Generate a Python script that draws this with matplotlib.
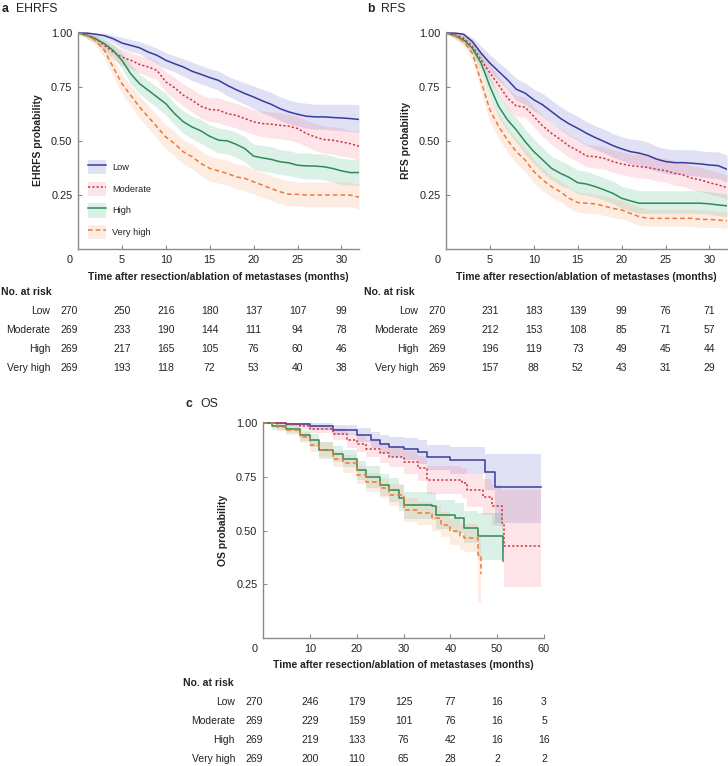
import numpy as np
import matplotlib
matplotlib.use("Agg")
import matplotlib.pyplot as plt
from matplotlib.patches import Patch
from matplotlib.lines import Line2D
from matplotlib.transforms import blended_transform_factory, ScaledTranslation

plt.rcParams['font.family'] = ['Liberation Sans', 'DejaVu Sans']

groups = ["Low", "Moderate", "High", "Very high"]
line_colors = ["#3a3a9e", "#d2323e", "#2e8b57", "#f07838"]
fill_colors = ["#6a6ad0", "#f07a8c", "#4cbb8a", "#f8a070"]
line_styles = ["-", (0, (1.4, 1.4)), "-", (0, (3, 2))]

months_ab = list(range(33))
ehrfs_surv = [
    [1.00, 1.00, 0.995, 0.988, 0.974, 0.954, 0.943, 0.932, 0.912, 0.897, 0.874, 0.858, 0.843, 0.823, 0.809, 0.794, 0.781,
     0.758, 0.738, 0.720, 0.704, 0.686, 0.670, 0.650, 0.635, 0.624, 0.615, 0.612, 0.612, 0.609, 0.607, 0.604, 0.600],
    [1.00, 0.992, 0.974, 0.943, 0.912, 0.889, 0.874, 0.855, 0.843, 0.827, 0.774, 0.747, 0.712, 0.689, 0.661, 0.646, 0.643,
     0.627, 0.619, 0.604, 0.589, 0.581, 0.578, 0.573, 0.569, 0.558, 0.535, 0.519, 0.507, 0.504, 0.496, 0.488, 0.476],
    [1.00, 0.989, 0.974, 0.951, 0.920, 0.874, 0.812, 0.766, 0.735, 0.704, 0.673, 0.627, 0.589, 0.565, 0.547, 0.522, 0.504,
     0.501, 0.485, 0.465, 0.430, 0.422, 0.415, 0.404, 0.399, 0.388, 0.385, 0.384, 0.381, 0.373, 0.362, 0.354, 0.354],
    [1.00, 0.989, 0.966, 0.920, 0.843, 0.766, 0.712, 0.658, 0.612, 0.565, 0.519, 0.488, 0.450, 0.427, 0.396, 0.373, 0.362,
     0.350, 0.334, 0.327, 0.311, 0.296, 0.280, 0.265, 0.254, 0.253, 0.250, 0.250, 0.250, 0.250, 0.250, 0.250, 0.240],
]
ehrfs_hi = [
    [1.00, 1.00, 1.00, 1.00, 0.99, 0.98, 0.97, 0.96, 0.945, 0.93, 0.91, 0.895, 0.88, 0.865, 0.85, 0.835, 0.825,
     0.80, 0.785, 0.77, 0.755, 0.74, 0.725, 0.705, 0.69, 0.68, 0.675, 0.67, 0.67, 0.67, 0.67, 0.67, 0.668],
    [1.00, 1.00, 0.99, 0.97, 0.945, 0.925, 0.91, 0.895, 0.885, 0.87, 0.82, 0.795, 0.765, 0.74, 0.715, 0.70, 0.70,
     0.685, 0.675, 0.66, 0.645, 0.64, 0.635, 0.63, 0.625, 0.615, 0.595, 0.58, 0.57, 0.565, 0.56, 0.55, 0.545],
    [1.00, 1.00, 0.99, 0.975, 0.95, 0.91, 0.855, 0.81, 0.78, 0.75, 0.72, 0.675, 0.64, 0.615, 0.60, 0.575, 0.56,
     0.555, 0.54, 0.52, 0.485, 0.48, 0.475, 0.46, 0.455, 0.445, 0.445, 0.44, 0.44, 0.43, 0.42, 0.415, 0.415],
    [1.00, 1.00, 0.985, 0.95, 0.885, 0.81, 0.76, 0.71, 0.665, 0.62, 0.575, 0.545, 0.505, 0.485, 0.455, 0.43, 0.42,
     0.41, 0.395, 0.385, 0.37, 0.355, 0.34, 0.325, 0.315, 0.31, 0.31, 0.31, 0.31, 0.31, 0.31, 0.31, 0.30],
]
ehrfs_lo = [
    [1.00, 0.99, 0.985, 0.975, 0.955, 0.93, 0.915, 0.905, 0.88, 0.86, 0.835, 0.82, 0.80, 0.78, 0.765, 0.75, 0.735,
     0.71, 0.69, 0.67, 0.65, 0.63, 0.615, 0.595, 0.58, 0.57, 0.56, 0.555, 0.555, 0.55, 0.548, 0.545, 0.54],
    [1.00, 0.98, 0.955, 0.915, 0.88, 0.85, 0.835, 0.815, 0.80, 0.785, 0.725, 0.695, 0.66, 0.635, 0.605, 0.59, 0.585,
     0.57, 0.56, 0.545, 0.53, 0.52, 0.515, 0.51, 0.505, 0.495, 0.475, 0.455, 0.445, 0.44, 0.43, 0.425, 0.41],
    [1.00, 0.975, 0.955, 0.925, 0.89, 0.835, 0.765, 0.72, 0.685, 0.655, 0.62, 0.575, 0.535, 0.51, 0.49, 0.465, 0.445,
     0.44, 0.425, 0.405, 0.37, 0.36, 0.355, 0.345, 0.34, 0.33, 0.325, 0.325, 0.32, 0.31, 0.30, 0.295, 0.295],
    [1.00, 0.975, 0.945, 0.885, 0.80, 0.72, 0.665, 0.605, 0.56, 0.51, 0.465, 0.43, 0.395, 0.37, 0.34, 0.315, 0.305,
     0.295, 0.28, 0.27, 0.255, 0.24, 0.225, 0.21, 0.20, 0.20, 0.195, 0.195, 0.195, 0.195, 0.195, 0.195, 0.185],
]

# ---- panel b: RFS
rfs_surv = [
    [1.00, 1.00, 0.995, 0.961, 0.907, 0.861, 0.822, 0.784, 0.740, 0.722, 0.691, 0.668, 0.637, 0.606, 0.580, 0.559, 0.536,
     0.516, 0.498, 0.479, 0.464, 0.451, 0.444, 0.433, 0.416, 0.405, 0.400, 0.400, 0.397, 0.394, 0.389, 0.386, 0.369],
    [1.00, 0.992, 0.977, 0.938, 0.876, 0.815, 0.760, 0.699, 0.663, 0.657, 0.614, 0.570, 0.536, 0.508, 0.477, 0.456, 0.431,
     0.428, 0.420, 0.405, 0.394, 0.386, 0.382, 0.377, 0.369, 0.363, 0.351, 0.343, 0.328, 0.320, 0.307, 0.297, 0.284],
    [1.00, 0.988, 0.969, 0.930, 0.861, 0.753, 0.660, 0.598, 0.552, 0.498, 0.451, 0.413, 0.374, 0.351, 0.332, 0.307, 0.301,
     0.289, 0.274, 0.258, 0.235, 0.223, 0.212, 0.212, 0.212, 0.212, 0.212, 0.212, 0.212, 0.212, 0.209, 0.204, 0.200],
    [1.00, 0.988, 0.961, 0.907, 0.776, 0.644, 0.567, 0.505, 0.451, 0.413, 0.359, 0.320, 0.289, 0.266, 0.235, 0.215, 0.212,
     0.209, 0.199, 0.188, 0.181, 0.165, 0.150, 0.142, 0.142, 0.142, 0.142, 0.142, 0.142, 0.137, 0.137, 0.134, 0.131],
]
rfs_hi = [
    [1.00, 1.00, 1.00, 0.98, 0.94, 0.90, 0.865, 0.83, 0.79, 0.77, 0.74, 0.72, 0.69, 0.66, 0.635, 0.615, 0.59,
     0.57, 0.555, 0.535, 0.52, 0.51, 0.505, 0.495, 0.475, 0.465, 0.46, 0.46, 0.46, 0.455, 0.45, 0.45, 0.435],
    [1.00, 1.00, 0.995, 0.965, 0.91, 0.855, 0.80, 0.745, 0.71, 0.705, 0.66, 0.62, 0.585, 0.56, 0.53, 0.51, 0.485,
     0.48, 0.475, 0.46, 0.45, 0.44, 0.44, 0.435, 0.425, 0.42, 0.41, 0.40, 0.385, 0.38, 0.365, 0.355, 0.345],
    [1.00, 1.00, 0.99, 0.96, 0.90, 0.80, 0.715, 0.655, 0.61, 0.555, 0.51, 0.47, 0.43, 0.41, 0.39, 0.365, 0.36,
     0.345, 0.33, 0.315, 0.29, 0.28, 0.27, 0.27, 0.27, 0.27, 0.27, 0.27, 0.27, 0.27, 0.265, 0.26, 0.255],
    [1.00, 1.00, 0.98, 0.935, 0.825, 0.70, 0.625, 0.56, 0.51, 0.47, 0.415, 0.375, 0.34, 0.315, 0.285, 0.265, 0.26,
     0.255, 0.245, 0.235, 0.225, 0.21, 0.195, 0.185, 0.185, 0.185, 0.185, 0.185, 0.185, 0.18, 0.18, 0.175, 0.17],
]
rfs_lo = [
    [1.00, 0.99, 0.985, 0.94, 0.875, 0.82, 0.78, 0.74, 0.69, 0.67, 0.64, 0.615, 0.585, 0.555, 0.525, 0.505, 0.48,
     0.46, 0.445, 0.425, 0.41, 0.395, 0.39, 0.375, 0.36, 0.35, 0.345, 0.345, 0.34, 0.335, 0.33, 0.325, 0.31],
    [1.00, 0.98, 0.96, 0.91, 0.84, 0.775, 0.715, 0.65, 0.615, 0.61, 0.565, 0.52, 0.485, 0.455, 0.425, 0.405, 0.38,
     0.375, 0.37, 0.355, 0.345, 0.335, 0.33, 0.325, 0.315, 0.31, 0.295, 0.29, 0.275, 0.265, 0.255, 0.245, 0.23],
    [1.00, 0.975, 0.95, 0.90, 0.82, 0.705, 0.61, 0.545, 0.495, 0.44, 0.395, 0.355, 0.32, 0.295, 0.28, 0.255, 0.25,
     0.24, 0.225, 0.21, 0.19, 0.175, 0.165, 0.165, 0.165, 0.165, 0.165, 0.165, 0.165, 0.165, 0.16, 0.155, 0.15],
    [1.00, 0.975, 0.94, 0.875, 0.73, 0.59, 0.51, 0.45, 0.395, 0.36, 0.305, 0.27, 0.24, 0.22, 0.19, 0.17, 0.165,
     0.165, 0.155, 0.145, 0.14, 0.125, 0.11, 0.105, 0.105, 0.105, 0.105, 0.105, 0.105, 0.10, 0.10, 0.10, 0.095],
]

os_times = [
    [0, 5, 10, 15, 20, 23, 25, 27, 30, 33, 35, 40, 47.5, 49.5, 59.3],
    [0, 5, 8, 10, 15, 18, 20, 22, 25, 27, 30, 33, 35, 42.5, 43.5, 47, 49, 51, 51.5, 59.3],
    [0, 2, 5, 8, 10, 12, 15, 17, 20, 22, 25, 27, 29, 30, 36, 37, 41, 43, 46, 51.2],
    [0, 3, 5, 8, 10, 12, 15, 17, 20, 22, 25, 27, 30, 33, 36, 38, 40, 42, 43, 46, 46.5],
]
os_surv = [
    [1.00, 0.994, 0.985, 0.966, 0.943, 0.923, 0.904, 0.889, 0.881, 0.866, 0.840, 0.827, 0.773, 0.704, 0.704],
    [1.00, 0.994, 0.985, 0.974, 0.951, 0.920, 0.904, 0.881, 0.861, 0.843, 0.820, 0.789, 0.735, 0.720, 0.689, 0.658,
     0.615, 0.535, 0.427, 0.427],
    [1.00, 0.985, 0.974, 0.943, 0.920, 0.874, 0.858, 0.835, 0.781, 0.750, 0.712, 0.689, 0.650, 0.619, 0.612, 0.573,
     0.558, 0.512, 0.473, 0.357],
    [1.00, 0.980, 0.966, 0.935, 0.897, 0.877, 0.835, 0.812, 0.758, 0.727, 0.696, 0.666, 0.596, 0.581, 0.558, 0.527,
     0.496, 0.473, 0.465, 0.388, 0.300],
]
os_hi = [
    [1.00, 1.00, 1.00, 0.99, 0.975, 0.96, 0.945, 0.935, 0.93, 0.92, 0.90, 0.89, 0.855, 0.855, 0.855],
    [1.00, 1.00, 1.00, 0.99, 0.975, 0.95, 0.94, 0.92, 0.905, 0.89, 0.87, 0.845, 0.80, 0.79, 0.765, 0.74, 0.71, 0.69,
     0.69, 0.69],
    [1.00, 1.00, 0.995, 0.97, 0.95, 0.91, 0.895, 0.875, 0.825, 0.80, 0.765, 0.745, 0.71, 0.68, 0.675, 0.64, 0.63,
     0.59, 0.58, 0.58],
    [1.00, 1.00, 0.985, 0.96, 0.925, 0.91, 0.87, 0.85, 0.80, 0.77, 0.74, 0.715, 0.65, 0.635, 0.615, 0.585, 0.555,
     0.535, 0.53, 0.49, 0.49],
]
os_lo = [
    [1.00, 0.985, 0.97, 0.945, 0.91, 0.885, 0.86, 0.84, 0.83, 0.81, 0.78, 0.765, 0.69, 0.535, 0.535],
    [1.00, 0.985, 0.97, 0.955, 0.92, 0.885, 0.865, 0.84, 0.815, 0.795, 0.765, 0.73, 0.67, 0.65, 0.61, 0.57, 0.52,
     0.40, 0.235, 0.235],
    [1.00, 0.97, 0.955, 0.915, 0.89, 0.835, 0.82, 0.795, 0.735, 0.70, 0.66, 0.635, 0.59, 0.555, 0.55, 0.505, 0.49,
     0.44, 0.365, 0.365],
    [1.00, 0.965, 0.945, 0.905, 0.865, 0.84, 0.795, 0.77, 0.715, 0.68, 0.65, 0.615, 0.54, 0.525, 0.50, 0.47, 0.435,
     0.41, 0.40, 0.165, 0.165],
]

# ---- numbers at risk
risk_times_ab = [0, 5, 10, 15, 20, 25, 30]
risk_times_c = [0, 10, 20, 30, 40, 50, 60]
ehrfs_risk = [[270, 250, 216, 180, 137, 107, 99],
              [269, 233, 190, 144, 111, 94, 78],
              [269, 217, 165, 105, 76, 60, 46],
              [269, 193, 118, 72, 53, 40, 38]]
rfs_risk = [[270, 231, 183, 139, 99, 76, 71],
            [269, 212, 153, 108, 85, 71, 57],
            [269, 196, 119, 73, 49, 45, 44],
            [269, 157, 88, 52, 43, 31, 29]]
os_risk = [[270, 246, 179, 125, 77, 16, 3],
           [269, 229, 159, 101, 76, 16, 5],
           [269, 219, 133, 76, 42, 16, 16],
           [269, 200, 110, 65, 28, 2, 2]]

W, H = 728, 766
fig = plt.figure(figsize=(W / 100, H / 100), dpi=100)
SPINE = "#8a8a8a"
TXT = "#222222"


def px_axes(left, top, right, bottom):
    return fig.add_axes([left / W, 1 - bottom / H, (right - left) / W, (bottom - top) / H])


def style_axes(ax, xmax, xticks, ylabel):
    ax.set_xlim(0, xmax)
    ax.set_ylim(0, 1.005)
    for s in ("top", "right"):
        ax.spines[s].set_visible(False)
    for s in ("left", "bottom"):
        ax.spines[s].set_color(SPINE)
        ax.spines[s].set_linewidth(1.0)
    ax.set_xticks(xticks)
    ax.set_xticklabels([str(t) for t in xticks])
    ax.set_yticks([0.25, 0.5, 0.75, 1.0])
    ax.set_yticklabels(["0.25", "0.50", "0.75", "1.00"])
    ax.tick_params(direction="in", length=3, width=0.8, color=SPINE, labelsize=7.9,
                   labelcolor=TXT, pad=4)
    # the "0" label sits left of the corner
    t0 = ax.xaxis.get_major_ticks()[0]
    t0.tick1line.set_visible(False)
    t0.label1.set_transform(t0.label1.get_transform() +
                            ScaledTranslation(-0.08, 0, fig.dpi_scale_trans))
    ax.set_xlabel("Time after resection/ablation of metastases (months)", fontsize=7.5,
                  fontweight="bold", color=TXT, labelpad=5)
    ax.set_ylabel(ylabel, fontsize=7.5, fontweight="bold", color=TXT, labelpad=6)


def draw_curves(ax, times_list, surv, lo, hi, stepped):
    step = "post" if stepped else None
    for i in range(4):
        ax.fill_between(times_list[i], lo[i], hi[i], step=step, color=fill_colors[i],
                        alpha=0.2, linewidth=0)
    for i in range(4):
        ax.plot(times_list[i], surv[i], drawstyle="steps-post" if stepped else "default",
                color=line_colors[i], linestyle=line_styles[i], linewidth=1.1)


def risk_table(ax, times, counts, header_y, head_off):
    tr = blended_transform_factory(ax.transData, fig.transFigure)
    shift0 = ScaledTranslation(-0.085, 0, fig.dpi_scale_trans)
    lab_shift = ScaledTranslation(-0.28, 0, fig.dpi_scale_trans)
    head_shift = ScaledTranslation(-head_off / 100, 0, fig.dpi_scale_trans)
    fig.text(0, 1 - header_y / H, "No. at risk", transform=tr + head_shift, fontsize=7.5,
             fontweight="bold", color=TXT, ha="left", va="center")
    for r, name in enumerate(groups):
        y = 1 - (header_y + 19 + 19 * r) / H
        fig.text(0, y, name, transform=tr + lab_shift, fontsize=7.5, color=TXT,
                 ha="right", va="center")
        for j, (t, n) in enumerate(zip(times, counts[r])):
            trans = tr + shift0 if j == 0 else tr
            fig.text(t, y, str(n), transform=trans, fontsize=7.5, color=TXT,
                     ha="center", va="center")


def panel_title(x, y, letter, name):
    fig.text(x / W, 1 - y / H, letter, fontsize=8.8, fontweight="bold", color=TXT,
             va="center", ha="left")
    fig.text((x + 14) / W, 1 - y / H, name, fontsize=8.8, color=TXT, va="center", ha="left")


# panel a
ax_a = px_axes(78, 32, 359, 249)
draw_curves(ax_a, [months_ab] * 4, ehrfs_surv, ehrfs_lo, ehrfs_hi, stepped=False)
style_axes(ax_a, 32, [0, 5, 10, 15, 20, 25, 30], "EHRFS probability")
handles = [(Patch(facecolor=fill_colors[i], alpha=0.2, linewidth=0),
            Line2D([], [], color=line_colors[i], linestyle=line_styles[i], linewidth=1.1))
           for i in range(4)]
ax_a.legend(handles, groups, loc="lower left", bbox_to_anchor=(0.036, 0.045), frameon=False,
            fontsize=6.7, handlelength=1.9, handleheight=2.0, labelspacing=0.78,
            handletextpad=0.7, borderpad=0, borderaxespad=0, labelcolor=TXT)
panel_title(2, 9, "a", "EHRFS")
risk_table(ax_a, risk_times_ab, ehrfs_risk, 292, 77)

# panel b
ax_b = px_axes(446, 32, 727, 249)
draw_curves(ax_b, [months_ab] * 4, rfs_surv, rfs_lo, rfs_hi, stepped=False)
style_axes(ax_b, 32, [0, 5, 10, 15, 20, 25, 30], "RFS probability")
panel_title(367, 9, "b", "RFS")
risk_table(ax_b, risk_times_ab, rfs_risk, 292, 82)

# panel c
ax_c = px_axes(263, 422, 544, 638)
draw_curves(ax_c, os_times, os_surv, os_lo, os_hi, stepped=True)
style_axes(ax_c, 60, [0, 10, 20, 30, 40, 50, 60], "OS probability")
panel_title(186, 404, "c", "OS")
risk_table(ax_c, risk_times_c, os_risk, 683, 80)

fig.savefig("out.png", dpi=100)
